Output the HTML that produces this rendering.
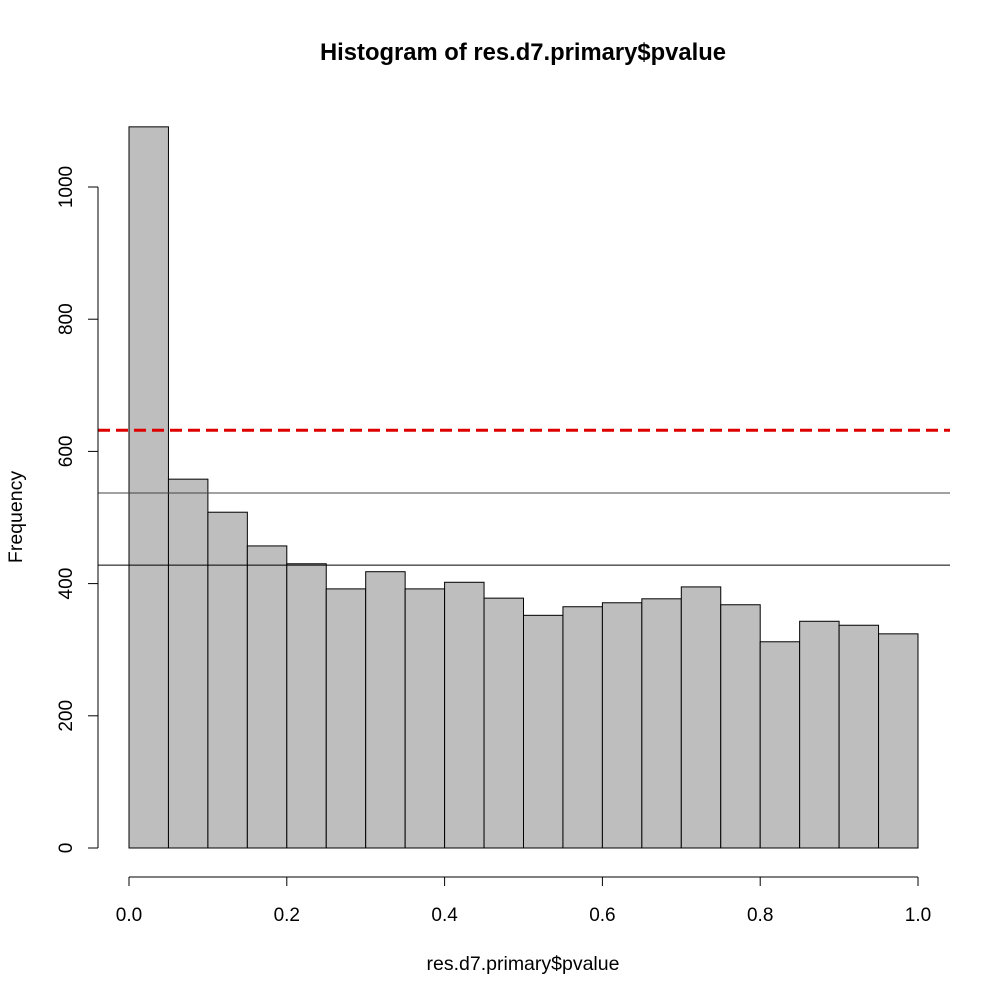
<!DOCTYPE html>
<html><head><meta charset="utf-8"><style>
body{margin:0;background:#fff}
svg text{font-family:"Liberation Sans",Arial,sans-serif}
</style></head><body>
<svg id="chart" width="1000" height="1000" viewBox="0 0 1000 1000" xmlns="http://www.w3.org/2000/svg">
<rect width="1000" height="1000" fill="#fff"/>
<text x="523" y="60" text-anchor="middle" font-size="23.8" font-weight="bold">Histogram of res.d7.primary$pvalue</text>
<text x="523" y="970" text-anchor="middle" font-size="19.5">res.d7.primary$pvalue</text>
<text transform="translate(22,517) rotate(-90)" text-anchor="middle" font-size="19.5">Frequency</text>
<g id="bars"></g>
<g id="refs"></g>
<g id="axes"></g>
</svg>
<script>
const binStarts=[0,0.05,0.1,0.15,0.2,0.25,0.3,0.35,0.4,0.45,0.5,0.55,0.6,0.65,0.7,0.75,0.8,0.85,0.9,0.95];
const counts=[1091,558,508,457,430,392,418,392,402,378,352,365,371,377,395,368,312,343,337,324];
const xTicks=[0,0.2,0.4,0.6,0.8,1.0];
const xTickLabels=["0.0","0.2","0.4","0.6","0.8","1.0"];
const yTicks=[0,200,400,600,800,1000];
const refValues=[632,537,428];
const binWidth=0.05;
const NS="http://www.w3.org/2000/svg";
const X=v=>129+v*789;
const Y=v=>848-v*0.661;
function mk(tag,attrs,parent,text){const e=document.createElementNS(NS,tag);for(const k in attrs)e.setAttribute(k,attrs[k]);if(text!==undefined)e.textContent=text;parent.appendChild(e);return e;}
const bars=document.getElementById('bars');
binStarts.forEach((s,i)=>{
  const r=mk('rect',{x:X(s),y:Y(counts[i]),width:X(s+binWidth)-X(s),height:Y(0)-Y(counts[i]),fill:'#bebebe',stroke:'#000','stroke-width':1},bars);
  
  
});
const refs=document.getElementById('refs');
const refStyles=[{stroke:'#dd0000','stroke-width':3,'stroke-dasharray':'12,6'},{stroke:'#444','stroke-width':1},{stroke:'#000','stroke-width':1}];
const refNames=['red-dashed-line','gray-line','black-line'];
refValues.forEach((v,i)=>{
  const l=mk('line',Object.assign({x1:98,x2:950,y1:Y(v),y2:Y(v)},refStyles[i]),refs);
  
  
});
const axes=document.getElementById('axes');
const xa=mk('line',{x1:X(0),x2:X(1),y1:877,y2:877,stroke:'#000'},axes);


xTicks.forEach((t,i)=>{
  const l=mk('line',{x1:X(t),x2:X(t),y1:877,y2:886,stroke:'#000'},axes);
  
  
  const tx=mk('text',{x:X(t),y:921,'text-anchor':'middle','font-size':19},axes,xTickLabels[i]);
  
  
});
const ya=mk('line',{x1:98,x2:98,y1:Y(0),y2:Y(1000),stroke:'#000'},axes);


yTicks.forEach(t=>{
  const l=mk('line',{x1:88,x2:98,y1:Y(t),y2:Y(t),stroke:'#000'},axes);
  
  
  const tx=mk('text',{transform:`translate(72,${Y(t)}) rotate(-90)`,'text-anchor':'middle','font-size':19},axes,String(t));
  
  
});
</script>
</body></html>
